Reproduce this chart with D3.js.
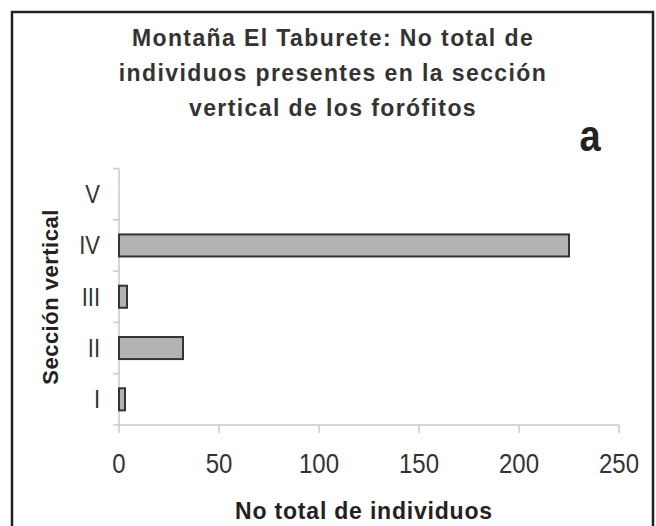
<!DOCTYPE html>
<html>
<head>
<meta charset="utf-8" />
<title>Montaña El Taburete</title>
<script src="https://d3js.org/d3.v7.min.js"></script>
<style>
    body { margin: 0; background-color: white; }
    svg { display: block; font-family: "Liberation Sans", Arial, sans-serif; }
</style>
</head>
<body>
<div id="container"></div>
<script>
    /* data */
    var secciones = ["V", "IV", "III", "II", "I"];
    var individuos = [0, 225, 4, 32, 3];
    var xTicks = [0, 50, 100, 150, 200, 250];
    var titulo = ["Montaña El Taburete: No total de",
                  "individuos presentes en la sección",
                  "vertical de los forófitos"];

    var width = 656, height = 526;

    var svg = d3.select("#container").append("svg")
        .attr("width", width).attr("height", height);

    /* frame round the whole chart */
    svg.append("rect")
        .attr("x", 12).attr("y", 12)
        .attr("width", 641).attr("height", 540)
        .attr("fill", "white")
        .attr("stroke", "#222").attr("stroke-width", 2.5);

    var x = d3.scaleLinear().domain([0, 250]).range([119, 619]);
    var y = d3.scaleBand().domain(secciones).range([168.5, 425])
        .paddingInner(0.57).paddingOuter(0.285);

    /* title */
    svg.append("g").selectAll("text")
        .data(titulo)
        .enter().append("text")
        .attr("x", 333)
        .attr("y", function (d, i) { return 46 + i * 35; })
        .attr("text-anchor", "middle")
        .style("font-size", "23px").style("font-weight", "bold")
        .style("letter-spacing", "1.4px")
        .style("fill", "#333")
        .text(function (d) { return d; });

    svg.append("text")
        .attr("transform", "translate(590,151) scale(1,1.15)")
        .attr("text-anchor", "middle")
        .style("font-size", "38px").style("font-weight", "bold")
        .style("fill", "#222")
        .text("a");

    /* axes */
    var axisCol = "#c8c8c8";
    svg.append("line")
        .attr("x1", x(0)).attr("x2", x(0))
        .attr("y1", y.range()[0]).attr("y2", y.range()[1])
        .attr("stroke", axisCol).attr("stroke-width", 1.5);
    svg.append("line")
        .attr("x1", x(0) - 6).attr("x2", x(250))
        .attr("y1", y.range()[1]).attr("y2", y.range()[1])
        .attr("stroke", axisCol).attr("stroke-width", 1.5);

    // category boundary ticks on the y axis
    svg.append("g").selectAll("line")
        .data(d3.range(secciones.length))
        .enter().append("line")
        .attr("x1", x(0) - 6).attr("x2", x(0))
        .attr("y1", function (i) { return y.range()[0] + i * y.step(); })
        .attr("y2", function (i) { return y.range()[0] + i * y.step(); })
        .attr("stroke", axisCol).attr("stroke-width", 1.5);

    svg.append("g").selectAll("line")
        .data(xTicks)
        .enter().append("line")
        .attr("x1", function (d) { return x(d); })
        .attr("x2", function (d) { return x(d); })
        .attr("y1", y.range()[1]).attr("y2", y.range()[1] + 8)
        .attr("stroke", axisCol).attr("stroke-width", 1.5);

    svg.append("g").selectAll("text")
        .data(xTicks)
        .enter().append("text")
        .attr("transform", function (d) { return "translate(" + x(d) + ",473) scale(1,1.16)"; })
        .attr("text-anchor", "middle")
        .style("font-size", "24px")
        .style("fill", "#333")
        .text(function (d) { return d; });

    svg.append("g").selectAll("text")
        .data(secciones)
        .enter().append("text")
        .attr("transform", function (d) {
            return "translate(100," + (y(d) + y.bandwidth() / 2 + 9) + ") scale(1,1.16)";
        })
        .attr("text-anchor", "end")
        .style("font-size", "22px")
        .style("fill", "#333")
        .text(function (d) { return d; });

    /* bars */
    svg.append("g").selectAll("rect")
        .data(secciones)
        .enter().append("rect")
        .attr("x", x(0))
        .attr("y", function (d) { return y(d); })
        .attr("width", function (d, i) { return x(individuos[i]) - x(0); })
        .attr("height", y.bandwidth())
        .attr("fill", "#b2b3b5")
        .attr("stroke", "#333").attr("stroke-width", 2)
        .style("display", function (d, i) { return individuos[i] > 0 ? null : "none"; });

    /* axis titles */
    svg.append("text")
        .attr("x", 364).attr("y", 519)
        .attr("text-anchor", "middle")
        .style("font-size", "23px").style("font-weight", "bold")
        .style("letter-spacing", "0.8px")
        .style("fill", "#222")
        .text("No total de individuos");

    svg.append("text")
        .attr("transform", "translate(58,297) rotate(-90)")
        .attr("text-anchor", "middle")
        .style("font-size", "22px").style("font-weight", "bold")
        .style("letter-spacing", "0.5px")
        .style("fill", "#222")
        .text("Sección vertical");
</script>
</body>
</html>
